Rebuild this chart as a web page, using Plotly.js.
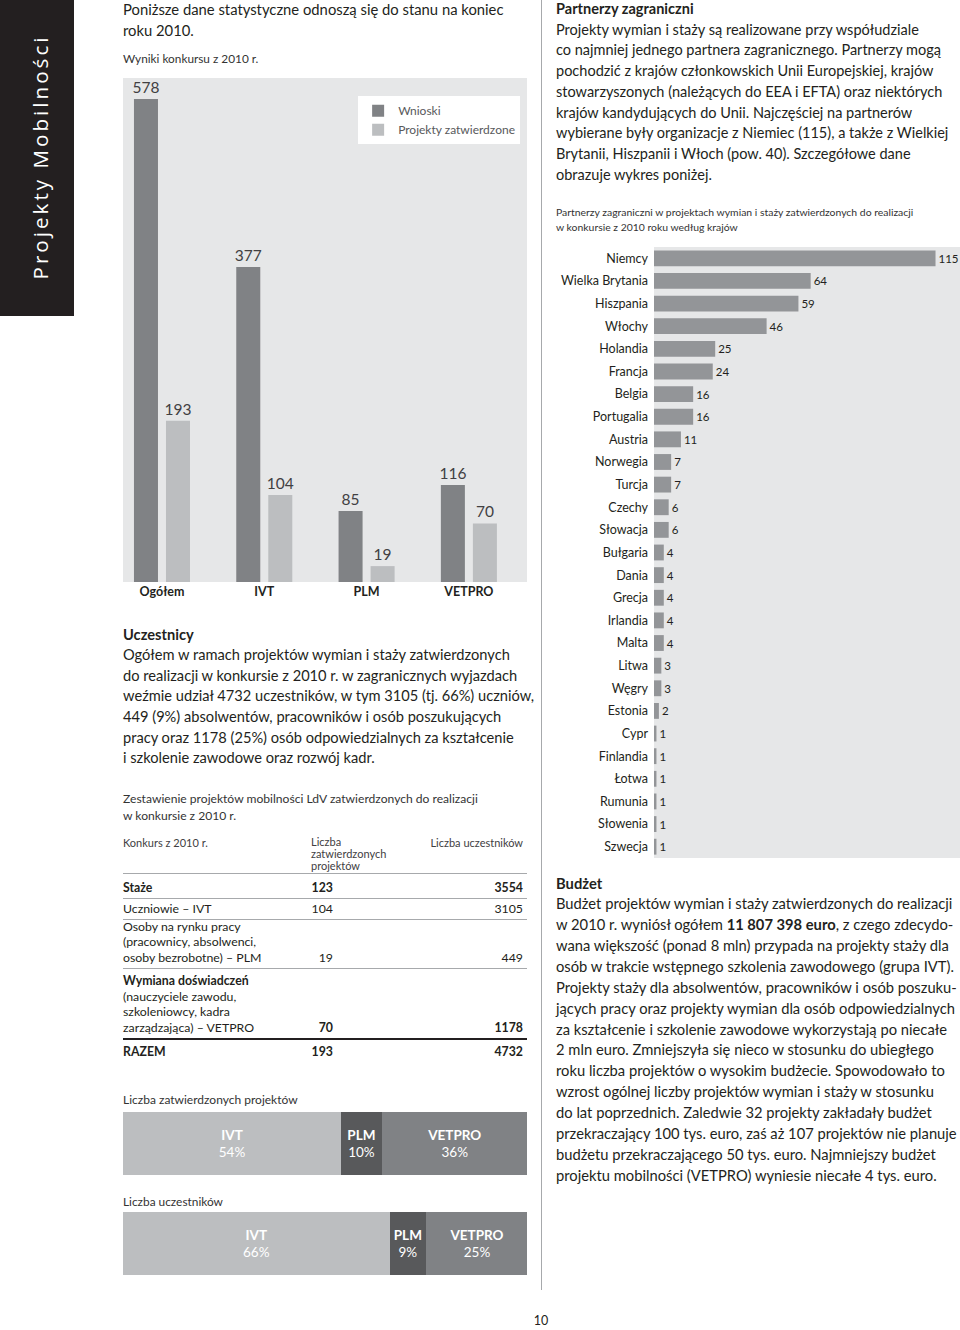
<!DOCTYPE html>
<html><head><meta charset="utf-8">
<script src="https://cdn.plot.ly/plotly-3.0.1.min.js"></script>
<style>
body{margin:0;background:#fff;}
#page{position:relative;width:960px;height:1330px;background:#fff;overflow:hidden;font-family:Lato,'Open Sans',sans-serif;color:#231f20;}
.abs{position:absolute;white-space:nowrap;}
.p{font-size:14.3px;line-height:20.8px;}
.cap{font-size:12px;line-height:16px;color:#333;}
.chart{position:absolute;}
</style></head>
<body><div id="page">
<div class="abs" style="left:0;top:0;width:74px;height:316px;background:#231f20;"></div>
<div id="side" class="abs" style="left:40px;top:157px;transform:translate(-50%,-50%) rotate(-90deg);color:#fff;font-family:'Open Sans',sans-serif;font-size:19px;letter-spacing:3px;line-height:24px;">Projekty Mobilności</div>
<div class="abs" style="left:541px;top:0;width:1px;height:1290px;background:#a7a9ac;"></div>

<div class="abs p fit" data-w="381" style="left:123px;top:-1.5px;line-height:21.5px;">Poniższe dane statystyczne odnoszą się do stanu na koniec<br>roku 2010.</div>
<div class="abs cap fit" data-w="136" style="left:123px;top:51px;">Wyniki konkursu z 2010 r.</div>

<div class="abs p fit" data-w="412" style="left:123px;top:624.5px;line-height:20.65px;"><b>Uczestnicy</b><br>Ogółem w ramach projektów wymian i staży zatwierdzonych<br>do realizacji w konkursie z 2010 r. w zagranicznych wyjazdach<br>weźmie udział 4732 uczestników, w tym 3105 (tj. 66%) uczniów,<br>449 (9%) absolwentów, pracowników i osób poszukujących<br>pracy oraz 1178 (25%) osób odpowiedzialnych za kształcenie<br>i szkolenie zawodowe oraz rozwój kadr.</div>
<div class="abs cap fit" data-w="355" style="left:123px;top:791px;line-height:16.5px;">Zestawienie projektów mobilności LdV zatwierdzonych do realizacji<br>w konkursie z 2010 r.</div>

<div id="table"></div>

<div class="abs cap fit" data-w="175" style="left:123px;top:1092px;">Liczba zatwierdzonych projektów</div>
<div class="abs cap fit" data-w="100" style="left:123px;top:1194px;">Liczba uczestników</div>

<div class="abs p fit" data-w="392" style="left:556px;top:-1px;line-height:20.7px;"><b>Partnerzy zagraniczni</b><br>Projekty wymian i staży są realizowane przy współudziale<br>co najmniej jednego partnera zagranicznego. Partnerzy mogą<br>pochodzić z krajów członkowskich Unii Europejskiej, krajów<br>stowarzyszonych (należących do EEA i EFTA) oraz niektórych<br>krajów kandydujących do Unii. Najczęściej na partnerów<br>wybierane były organizacje z Niemiec (115), a także z Wielkiej<br>Brytanii, Hiszpanii i Włoch (pow. 40). Szczegółowe dane<br>obrazuje wykres poniżej.</div>
<div class="abs fit" data-w="357" style="left:556px;top:204.5px;font-size:10.5px;line-height:15px;color:#333;">Partnerzy zagraniczni w projektach wymian i staży zatwierdzonych do realizacji<br>w konkursie z 2010 roku według krajów</div>

<div class="abs p fit" data-w="401" style="left:556px;top:872.6px;line-height:20.86px;"><b>Budżet</b><br>Budżet projektów wymian i staży zatwierdzonych do realizacji<br>w 2010 r. wyniósł ogółem <b>11 807 398 euro</b>, z czego zdecydo-<br>wana większość (ponad 8 mln) przypada na projekty staży dla<br>osób w trakcie wstępnego szkolenia zawodowego (grupa IVT).<br>Projekty staży dla absolwentów, pracowników i osób poszuku-<br>jących pracy oraz projekty wymian dla osób odpowiedzialnych<br>za kształcenie i szkolenie zawodowe wykorzystają po niecałe<br>2 mln euro. Zmniejszyła się nieco w stosunku do ubiegłego<br>roku liczba projektów o wysokim budżecie. Spowodowało to<br>wzrost ogólnej liczby projektów wymian i staży w stosunku<br>do lat poprzednich. Zaledwie 32 projekty zakładały budżet<br>przekraczający 100 tys. euro, zaś aż 107 projektów nie planuje<br>budżetu przekraczającego 50 tys. euro. Najmniejszy budżet<br>projektu mobilności (VETPRO) wyniesie niecałe 4 tys. euro.</div>

<div class="abs" style="left:541px;top:1321px;transform:translate(-50%,-50%);font-size:12.5px;line-height:14px;">10</div>

<div id="chart1" class="chart" style="left:100px;top:70px;width:440px;height:545px;"></div>
<div id="chart2" class="chart" style="left:123px;top:1112px;width:404px;height:163px;"></div>
<div id="chart3" class="chart" style="left:550px;top:240px;width:410px;height:630px;"></div>
</div>
<script>
// ---- data ----
const groupCategories = ['Ogółem', 'IVT', 'PLM', 'VETPRO'];
const seriesNames = ['Wnioski', 'Projekty zatwierdzone'];
const applications = [578, 377, 85, 116];
const approvedProjects = [193, 104, 19, 70];

const shareBars = ['Liczba zatwierdzonych projektów', 'Liczba uczestników'];
const shareSegments = ['IVT', 'PLM', 'VETPRO'];
const projectShares = [54, 10, 36];
const participantShares = [66, 9, 25];

const countries = ['Niemcy', 'Wielka Brytania', 'Hiszpania', 'Włochy', 'Holandia', 'Francja', 'Belgia', 'Portugalia', 'Austria', 'Norwegia', 'Turcja', 'Czechy', 'Słowacja', 'Bułgaria', 'Dania', 'Grecja', 'Irlandia', 'Malta', 'Litwa', 'Węgry', 'Estonia', 'Cypr', 'Finlandia', 'Łotwa', 'Rumunia', 'Słowenia', 'Szwecja'];
const partnerCounts = [115, 64, 59, 46, 25, 24, 16, 16, 11, 7, 7, 6, 6, 4, 4, 4, 4, 4, 3, 3, 2, 1, 1, 1, 1, 1, 1];

const tableHeader = ['Konkurs z 2010 r.', 'Liczba<br>zatwierdzonych<br>projektów', 'Liczba uczestników'];
const tableRowLabels = ['<b>Staże</b>', 'Uczniowie – IVT', 'Osoby na rynku pracy<br>(pracownicy, absolwenci,<br>osoby bezrobotne) – PLM', '<b>Wymiana doświadczeń</b><br>(nauczyciele zawodu,<br>szkoleniowcy, kadra<br>zarządzająca) – VETPRO', '<b>RAZEM</b>'];
const tableProjectCounts = [123, 104, 19, 70, 193];
const tableParticipantCounts = [3554, 3105, 449, 1178, 4732];
const tableBoldValues = [true, false, false, true, true];

// ---- styles ----
const FONT = 'Lato, Open Sans, sans-serif';
const C_DARK = '#808285', C_LIGHT = '#bcbec0', C_BG = '#e6e7e8';

// text fitting
document.querySelectorAll('.fit').forEach(el => {
  const target = parseFloat(el.dataset.w);
  const w = el.offsetWidth;
  const fs = parseFloat(getComputedStyle(el).fontSize);
  if (w > 0) el.style.fontSize = (fs * target / w) + 'px';
});
(function(){
  const s = document.getElementById('side');
  const w = s.offsetWidth;
  const fs = parseFloat(getComputedStyle(s).fontSize);
  s.style.fontSize = (fs * 250 / w) + 'px';
})();

// table
(function(){
  const t = document.getElementById('table');
  let h = '';
  h += `<div class="abs" style="left:123px;top:835.5px;font-size:11px;line-height:13px;color:#414042;">${tableHeader[0]}</div>`;
  h += `<div class="abs" style="left:311px;top:836px;font-size:11px;line-height:12px;color:#414042;">${tableHeader[1]}</div>`;
  h += `<div class="abs" style="left:323px;top:835.5px;width:200px;text-align:right;font-size:11px;line-height:13px;color:#414042;">${tableHeader[2]}</div>`;
  const rowTops = [873, 898, 919, 968, 1038];
  const rowBottoms = [898, 919, 968, 1038, 1062];
  tableRowLabels.forEach((lab, i) => {
    const top = rowTops[i], hh = rowBottoms[i] - rowTops[i];
    const lineStyle = i === 4 ? 'border-top:2px solid #231f20;' : 'border-top:1px solid #a7a9ac;';
    h += `<div class="abs" style="left:123px;top:${top}px;width:404px;height:${hh}px;${lineStyle}box-sizing:border-box;"></div>`;
    const wt = tableBoldValues[i] ? 'bold' : 'normal';
    const base = `position:absolute;white-space:nowrap;top:${top}px;height:${hh}px;display:flex;align-items:flex-end;padding-bottom:3px;box-sizing:border-box;font-size:12.3px;line-height:15.5px;`;
    h += `<div style="${base}left:123px;"><div>${lab}</div></div>`;
    h += `<div style="${base}left:233px;width:100px;justify-content:flex-end;font-weight:${wt};"><div>${tableProjectCounts[i]}</div></div>`;
    h += `<div style="${base}left:423px;width:100px;justify-content:flex-end;font-weight:${wt};"><div>${tableParticipantCounts[i]}</div></div>`;
  });
  t.innerHTML = h;
})();

// chart 1: grouped bars
Plotly.newPlot('chart1', [
  {type:'bar', x:groupCategories, y:applications, name:seriesNames[0], marker:{color:C_DARK},
   text:applications.map(String), textposition:'outside', constraintext:'none', cliponaxis:false,
   textfont:{size:15.5, color:'#414042', family:FONT}, hoverinfo:'skip'},
  {type:'bar', x:groupCategories, y:approvedProjects, name:seriesNames[1], marker:{color:C_LIGHT},
   text:approvedProjects.map(String), textposition:'outside', constraintext:'none', cliponaxis:false,
   textfont:{size:15.5, color:'#414042', family:FONT}, hoverinfo:'skip'}
], {
  width:440, height:545, margin:{l:23, r:13, t:8, b:33},
  barmode:'group', bargap:0.374, bargroupgap:0.25,
  plot_bgcolor:C_BG, paper_bgcolor:'rgba(0,0,0,0)',
  font:{family:FONT, color:'#231f20'},
  xaxis:{type:'category', range:[-0.381, 3.568], showgrid:false, zeroline:false, showline:false, ticks:'',
         tickfont:{size:12.5, color:'#231f20', weight:'bold', family:FONT}},
  yaxis:{range:[0, 603], visible:false},
  showlegend:true,
  legend:{x:0.582, y:0.964, xanchor:'left', yanchor:'top', bgcolor:'#ffffff', borderwidth:0, itemwidth:30,
          font:{size:12, color:'#58595b', family:FONT}, traceorder:'normal'}
}, {staticPlot:true});

// chart 2: 100% stacked bars
const segColors = ['#bcbec0', '#58595b', '#808285'];
Plotly.newPlot('chart2', shareSegments.map((seg, i) => ({
  type:'bar', orientation:'h', y:shareBars, x:[projectShares[i], participantShares[i]], name:seg,
  marker:{color:segColors[i]}, texttemplate:'<b>' + seg + '</b><br>%{x}%', textposition:'inside',
  insidetextanchor:'middle', textfont:{size:13.5, color:'#ffffff', family:FONT}, hoverinfo:'skip'
})), {
  width:404, height:163, margin:{l:0, r:0, t:0, b:0},
  barmode:'stack', bargap:0.37, showlegend:false,
  plot_bgcolor:'rgba(0,0,0,0)', paper_bgcolor:'rgba(0,0,0,0)',
  font:{family:FONT},
  uniformtext:{mode:'show', minsize:13.5},
  xaxis:{range:[0, 100], visible:false},
  yaxis:{type:'category', range:[1.315, -0.315], visible:false}
}, {staticPlot:true});

// chart 3: partners by country
Plotly.newPlot('chart3', [{
  type:'bar', orientation:'h', y:countries, x:partnerCounts, marker:{color:'#939598'},
  text:partnerCounts.map(String), textposition:'outside', constraintext:'none', cliponaxis:false,
  textfont:{size:11.5, color:'#231f20', family:FONT}, hoverinfo:'skip'
}], {
  width:410, height:630, margin:{l:104, r:0, t:7, b:12},
  bargap:0.3, showlegend:false,
  plot_bgcolor:C_BG, paper_bgcolor:'rgba(0,0,0,0)',
  font:{family:FONT},
  xaxis:{range:[0, 125], visible:false},
  yaxis:{type:'category', range:[26.5, -0.5], ticks:'', showgrid:false, zeroline:false, showline:false,
         ticklabelstandoff:5, tickfont:{size:12.5, color:'#231f20', family:FONT}}
}, {staticPlot:true});
</script>
</body></html>
